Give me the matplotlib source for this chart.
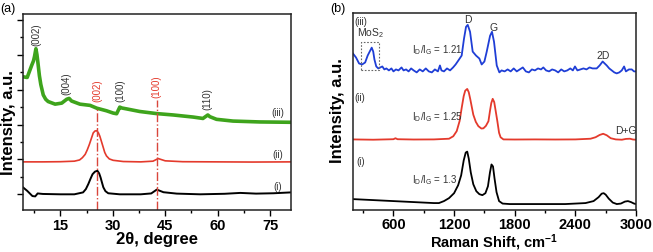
import matplotlib
matplotlib.use("Agg")
import matplotlib.pyplot as plt
from matplotlib.ticker import MultipleLocator, NullFormatter

plt.rcParams["font.family"] = ["Liberation Sans", "DejaVu Sans"]
plt.rcParams["mathtext.fontset"] = "custom"
plt.rcParams["mathtext.rm"] = "Liberation Sans"
plt.rcParams["mathtext.it"] = "Liberation Sans"
plt.rcParams["mathtext.bf"] = "Liberation Sans:bold"

# ---- panel (a): XRD, 2theta in degrees, intensity in arbitrary offset units
xrd_i_x = [4.3, 5.5, 7.0, 7.8, 8.5, 10, 15, 19, 21.5, 22.3, 23.0, 23.6, 24.2, 24.9, 25.6, 26.1, 26.5,
           26.9, 27.3, 27.9, 28.7, 32, 38, 41.0, 42.6, 44.5, 48.3, 55, 62, 66.5, 71, 76, 81]
xrd_i_y = [0.40, 0.20, -0.10, -0.12, 0.05, 0.02, 0.0, 0.0, 0.11, 0.30, 0.59, 0.88, 1.15, 1.30, 1.35, 1.20,
           0.97, 0.68, 0.40, 0.18, 0.06, 0.0, 0.0, 0.05, 0.27, 0.12, 0.04, 0.0, 0.03, 0.08, 0.04, 0.06, 0.11]

xrd_ii_x = [4.3, 10, 15, 19, 20.5, 21.3, 22.1, 22.7, 23.3, 23.9, 24.4, 24.9, 25.4, 25.9, 26.3, 26.8, 27.3,
            27.7, 28.2, 29.0, 30.1, 33, 38, 41.5, 43.0, 45.0, 50, 60, 70, 81]
xrd_ii_y = [1.86, 1.86, 1.87, 1.90, 1.97, 2.10, 2.29, 2.55, 2.86, 3.22, 3.52, 3.63, 3.65, 3.52, 3.33, 3.00,
            2.67, 2.40, 2.20, 2.03, 1.95, 1.88, 1.86, 1.90, 2.05, 1.92, 1.87, 1.86, 1.85, 1.86]

xrd_iii_x = [4.3, 5.5, 6.8, 7.3, 7.6, 8.0, 8.3, 8.6, 9.0, 9.4, 10.1, 10.8, 11.5, 13.5, 15.4, 16.8, 17.5,
             18.2, 20.6, 23.5, 25.4, 28.2, 30.1, 31.1, 32.0, 32.6, 33.9, 37.7, 42.5, 47.3, 53.0, 55.8,
             57.2, 57.8, 59.7, 64.4, 72.0, 81.0]
xrd_iii_y = [6.74, 6.70, 7.40, 7.65, 7.90, 8.35, 8.00, 7.50, 6.80, 6.30, 5.70, 5.45, 5.32, 5.17, 5.23, 5.45,
             5.50, 5.35, 5.17, 5.10, 4.94, 4.79, 4.66, 4.62, 5.00, 4.95, 4.90, 4.75, 4.63, 4.55, 4.43, 4.35,
             4.55, 4.45, 4.30, 4.20, 4.15, 4.13]

xrd_ref_lines = [25.6, 42.6]
xrd_ref_tops = [5.0, 5.4]
xrd_black_peaks = [("(002)", 8.0, 9.2), ("(004)", 16.8, 6.4), ("(100)", 32.2, 6.0), ("(110)", 57.0, 5.5)]
xrd_red_peaks = [("(002)", 25.6, 6.0), ("(100)", 42.6, 6.25)]
xrd_tags = [("(iii)", 4.7), ("(ii)", 2.3), ("(i)", 0.5)]

# ---- panel (b): Raman, shift in cm-1, intensity in arbitrary offset units
raman_i = [(200, 11), (300, 10.5), (400, 10), (500, 9.5), (600, 9), (700, 8.5), (800, 8), (900, 7.5),
           (1000, 7), (1050, 7), (1100, 9), (1150, 12), (1200, 17), (1240, 25), (1270, 35), (1295, 50),
           (1315, 58), (1330, 59), (1345, 52), (1365, 38), (1390, 26), (1420, 19), (1450, 16), (1480, 15),
           (1510, 17), (1535, 24), (1555, 38), (1570, 46), (1585, 44), (1600, 32), (1620, 18), (1645, 9),
           (1680, 6.5), (1750, 6), (2000, 6), (2300, 6), (2500, 7), (2580, 9), (2630, 13), (2660, 16.5),
           (2680, 17), (2700, 15.5), (2730, 11.5), (2770, 7.5), (2810, 6), (2850, 6.5), (2890, 8.5),
           (2920, 9), (2950, 8), (2980, 6.5), (3000, 6)]

raman_ii = [(200, 71.3), (400, 71), (600, 71.5), (620, 72.5), (640, 71.5), (800, 71.2), (1000, 71.3),
            (1150, 72), (1192, 74.5), (1226, 79.7), (1255, 90), (1275, 103), (1295, 115), (1310, 120.5),
            (1330, 122.3), (1345, 119), (1360, 112), (1390, 96.3), (1415, 89), (1440, 84.7), (1470, 82.3),
            (1490, 82.5), (1515, 85), (1540, 89.7), (1555, 100), (1568, 108), (1582, 112.3), (1597, 109),
            (1610, 101), (1628, 89.7), (1645, 78), (1660, 73.5), (1688, 71.3), (1800, 71.2), (2000, 71.3),
            (2200, 71.2), (2400, 71.3), (2550, 72), (2600, 73.5), (2640, 75.8), (2675, 77), (2710, 75.5),
            (2750, 72.5), (2800, 71.3), (2860, 71), (2900, 71.8), (2940, 72), (2970, 71.2), (3000, 71)]

raman_iii = [(200, 158), (230, 154), (260, 148), (290, 147), (320, 149), (345, 156), (365, 160), (385, 164),
             (400, 160), (412, 152), (430, 145), (450, 143), (470, 144), (490, 145), (510, 142), (530, 143),
             (555, 141), (580, 143), (600, 140), (625, 142), (650, 141), (680, 144), (700, 141), (725, 142),
             (750, 140), (775, 143), (800, 141), (830, 139), (860, 142), (890, 140), (920, 143), (950, 140),
             (980, 139), (1010, 142), (1040, 140), (1060, 146), (1075, 141), (1100, 140), (1130, 143),
             (1160, 141), (1190, 144), (1215, 147), (1242, 151), (1275, 156), (1298, 173), (1318, 185),
             (1335, 187), (1358, 180), (1384, 160), (1417, 156), (1450, 153), (1473, 147), (1500, 150),
             (1523, 160), (1556, 176), (1575, 180), (1595, 170), (1622, 146), (1648, 139), (1670, 141),
             (1700, 140), (1730, 142), (1760, 140), (1790, 143), (1820, 140), (1850, 142), (1880, 144),
             (1910, 140), (1940, 139), (1970, 142), (2000, 141), (2030, 143), (2060, 142), (2083, 144),
             (2110, 141), (2140, 140), (2170, 142), (2200, 141), (2230, 139), (2260, 142), (2290, 140),
             (2320, 141), (2350, 143), (2375, 141), (2396, 145), (2420, 141), (2450, 142), (2480, 143),
             (2510, 142), (2540, 144), (2570, 143), (2611, 143), (2640, 146), (2670, 150), (2690, 148),
             (2710, 146), (2735, 143), (2760, 141), (2785, 139), (2809, 138), (2835, 139), (2859, 141),
             (2882, 145), (2900, 140), (2930, 142), (2958, 142), (2980, 140), (3000, 140)]

raman_texts = [("(iii)", 215, 191), ("(ii)", 215, 114), ("(i)", 232, 50),
               ("I$_D$/I$_G$ = 1.21", 780, 163), ("I$_D$/I$_G$ = 1.25", 780, 95),
               ("I$_D$/I$_G$ = 1.3", 780, 31)]
raman_peak_names = [("D", 1341, 193), ("G", 1588, 185), ("2D", 2677, 157), ("D+G", 2905, 81),
                    ("MoS$_2$", 377, 180)]
mos2_box = (276, 457, 141, 170)

GREEN = "#3ea41c"
RED = "#e43a2c"
BLUE = "#1f3ed6"
TXT = "#333333"


def style_axes(ax, pad=2):
    for s in ax.spines.values():
        s.set_linewidth(1.1)
        s.set_color("#222222")
    ax.tick_params(which="both", direction="out", width=1.0, labelsize=10.5, pad=pad)
    ax.tick_params(which="major", length=4)
    ax.tick_params(which="minor", length=2.5)
    for lab in ax.get_xticklabels():
        lab.set_fontweight("bold")


fig = plt.figure(figsize=(6.53, 2.53), dpi=100)
ax_a = fig.add_axes([0.0352, 0.166, 0.4104, 0.7747])
ax_b = fig.add_axes([0.5406, 0.166, 0.4334, 0.7787])

# panel (a)
ax_a.plot(xrd_i_x, xrd_i_y, color="black", lw=1.4)
ax_a.plot(xrd_ii_x, xrd_ii_y, color=RED, lw=1.2)
ax_a.plot(xrd_iii_x, xrd_iii_y, color=GREEN, lw=2.6)
for xv, ytop in zip(xrd_ref_lines, xrd_ref_tops):
    ax_a.plot([xv, xv], [-0.9, ytop], color="#d9463c", lw=1.0, ls="-.")
for lab, xv, yv in xrd_black_peaks:
    ax_a.text(xv, yv, lab, rotation=90, ha="center", va="center", fontsize=7, color=TXT)
for lab, xv, yv in xrd_red_peaks:
    ax_a.text(xv, yv, lab, rotation=90, ha="center", va="center", fontsize=7, color=RED)
for lab, yv in xrd_tags:
    ax_a.text(77.3, yv, lab, ha="center", va="center", fontsize=7, color=TXT)
ax_a.set_xlim(4.3, 81)
ax_a.set_ylim(-0.9, 10.34)
ax_a.xaxis.set_major_locator(MultipleLocator(15))
ax_a.xaxis.set_minor_locator(MultipleLocator(7.5))
ax_a.yaxis.set_major_locator(MultipleLocator(2))
ax_a.yaxis.set_minor_locator(MultipleLocator(1))
ax_a.yaxis.set_major_formatter(NullFormatter())
style_axes(ax_a)
ax_a.set_xlabel("2θ, degree", fontsize=12, fontweight="bold", labelpad=-1)
ax_a.set_ylabel("Intensity, a.u.", fontsize=12, fontweight="bold")
ax_a.yaxis.set_label_coords(-0.025, 0.45)

# panel (b)
for series, col in [(raman_i, "black"), (raman_ii, RED), (raman_iii, BLUE)]:
    xs = [p[0] for p in series]
    ys = [p[1] for p in series]
    ax_b.plot(xs, ys, color=col, lw=1.3)
x0, x1, y0, y1 = mos2_box
ax_b.plot([x0, x1, x1, x0, x0], [y0, y0, y1, y1, y0], color="#666666", lw=0.8, ls=(0, (1.5, 1.5)))
for lab, xv, yv in raman_texts:
    ax_b.text(xv, yv, lab, ha="left", va="center", fontsize=7, color=TXT)
for lab, xv, yv in raman_peak_names:
    ax_b.text(xv, yv, lab, ha="center", va="center", fontsize=7.5, color=TXT)
ax_b.set_xlim(200, 3000)
ax_b.set_ylim(0, 199)
ax_b.xaxis.set_major_locator(MultipleLocator(600))
ax_b.xaxis.set_minor_locator(MultipleLocator(300))
ax_b.set_yticks([])
style_axes(ax_b, pad=1)
ax_b.set_xlabel("Raman Shift, cm$^{\\mathbf{-1}}$", fontsize=10.5, fontweight="bold", labelpad=0)
ax_b.set_ylabel("Intensity, a.u.", fontsize=12, fontweight="bold")
ax_b.yaxis.set_label_coords(-0.03, 0.51)

fig.text(0.0, 0.965, "(a)", fontsize=9, va="center", ha="left")
fig.text(0.506, 0.965, "(b)", fontsize=9, va="center", ha="left")

fig.savefig("out.png", dpi=100)
